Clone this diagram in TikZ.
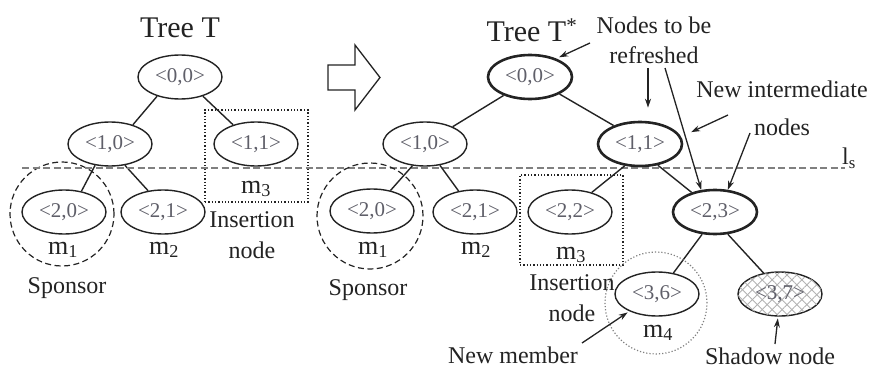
\documentclass[tikz,border=0pt]{standalone}
\usepackage{fontspec}
\setmainfont{Liberation Serif}
\usetikzlibrary{shapes.geometric,patterns.meta,arrows.meta}
\definecolor{labgray}{RGB}{95,95,105}
\definecolor{ink}{RGB}{35,35,35}
\begin{document}
\begin{tikzpicture}[x=1pt,y=-1pt,
  tn/.style={ellipse,draw=ink,line width=1.4pt,minimum width=84pt,minimum height=44pt,inner sep=0pt,
    font=\fontsize{21}{21}\selectfont,text=labgray},
  tnb/.style={tn,line width=2.6pt},
  edge/.style={draw=ink,line width=1.4pt},
  ttl/.style={font=\fontsize{30}{30}\selectfont,text=ink},
  lab/.style={font=\fontsize{24}{30}\selectfont,text=ink,align=center,inner sep=0pt},
  mlab/.style={font=\fontsize{26}{26}\selectfont,text=ink,inner sep=0pt},
  ann/.style={-{Stealth[length=9pt,width=6pt]},line width=1.3pt,draw=ink},
  hatch/.style={pattern={Lines[angle=45,distance=7pt,line width=0.9pt]},pattern color=gray!60,
    postaction={pattern={Lines[angle=-45,distance=7pt,line width=0.9pt]},pattern color=gray!60}}
]
\useasboundingbox (0,0) rectangle (876,369);

% ---------- left tree ----------
\node[ttl] (tT) at (180,28) {Tree T};
\node[tn] (l00) at (180,77) {<0,0>};
\node[tn] (l10) at (110,144) {<1,0>};
\node[tn] (l11) at (256,144) {<1,1>};
\node[tn] (l20) at (64,212) {<2,0>};
\node[tn] (l21) at (163,212) {<2,1>};
\draw[edge] (l00.220) -- (l10.40);
\draw[edge] (l00.320) -- (l11.140);
\draw[edge] (l10.235) -- (l20.50);
\draw[edge] (l10.305) -- (l21.125);
\node[draw=ink,dotted,line width=1.3pt,minimum width=103pt,minimum height=92pt,inner sep=0pt] (lins) at (256.5,156) {};
\node[mlab] (lm3) at (256,189) {m\textsubscript{3}};
\node[circle,draw=ink,dashed,dash pattern=on 6pt off 3.5pt,line width=1.2pt,minimum size=104pt,inner sep=0pt] (lsp) at (62,214) {};
\node[mlab] (lm1) at (63,250) {m\textsubscript{1}};
\node[mlab] (lm2) at (164,250) {m\textsubscript{2}};
\node[lab] (lsponsor) at (67,288) {Sponsor};
\node[lab,font=\fontsize{24}{31}\selectfont] (linsl) at (252,235) {Insertion\\node};

% ---------- level line ----------
\coordinate (lsA) at (22,168);
\coordinate (lsB) at (845,168);
\draw[draw=gray,dashed,dash pattern=on 7pt off 3.5pt,line width=1.3pt] (lsA) -- (lsB);
\node[lab] (ls) at (849,158) {l\textsubscript{s}};

% ---------- block arrow ----------
\draw[draw=ink,line width=1.3pt,fill=white] (328,65) -- (355,65) -- (355,45) -- (380,77.5) -- (355,110) -- (355,90) -- (328,90) -- cycle;

% ---------- right tree ----------
\node[ttl,anchor=west] (tTs) at (483,30) {Tree T\textsuperscript{*}};
\node[tnb] (r00) at (530,77) {<0,0>};
\node[tn] (r10) at (425,144) {<1,0>};
\node[tnb] (r11) at (640,144) {<1,1>};
\node[tn] (r20) at (372,211) {<2,0>};
\node[tn] (r21) at (475,212) {<2,1>};
\node[tn] (r22) at (570,212) {<2,2>};
\node[tnb] (r23) at (715,212) {<2,3>};
\node[tn] (r36) at (657,294) {<3,6>};
\node[tn,hatch] (r37) at (780,294) {<3,7>};
\draw[edge] (r00.215) -- (r10.32);
\draw[edge] (r00.330) -- (r11.145);
\draw[edge] (r10.240) -- (r20.48);
\draw[edge] (r10.305) -- (r21.128);
\draw[edge] (r11.235) -- (r22.42);
\draw[edge] (r11.310) -- (r23.140);
\draw[edge] (r23.240) -- (r36.52);
\draw[edge] (r23.300) -- (r37.128);

\node[draw=ink,dotted,line width=1.3pt,minimum width=103pt,minimum height=90pt,inner sep=0pt] (rins) at (571.5,220) {};
\node[circle,draw=ink,dashed,dash pattern=on 6pt off 3.5pt,line width=1.2pt,minimum size=106pt,inner sep=0pt] (rsp) at (370,216) {};
\node[circle,draw=gray,dotted,line width=1.2pt,minimum size=102pt,inner sep=0pt] (rnm) at (656,303) {};
\node[mlab] (rm1) at (373,250) {m\textsubscript{1}};
\node[mlab] (rm2) at (476,250) {m\textsubscript{2}};
\node[mlab] (rm3) at (571,255) {m\textsubscript{3}};
\node[mlab] (rm4) at (658,333) {m\textsubscript{4}};
\node[lab] (rsponsor) at (368,290) {Sponsor};
\node[lab,font=\fontsize{24}{31}\selectfont] (rinsl) at (572,298) {Insertion\\node};

% ---------- annotations ----------
\node[lab] (refr) at (654,40) {Nodes to be\\refreshed};
\node[lab] (newint) at (782,89) {New intermediate};
\node[lab] (newint2) at (782,127) {nodes};
\node[lab] (newmem) at (513,355) {New member};
\node[lab] (shadow) at (770,356) {Shadow node};

\coordinate (a1) at (590,43);
\coordinate (a2) at (648,68);
\coordinate (a3) at (665,68);
\coordinate (a4) at (728,115);
\coordinate (a5) at (750,133);
\coordinate (a6) at (582,343);
\coordinate (a7) at (775,344);
\draw[ann,shorten >=3pt] (a1) -- (r00.35);
\draw[ann,shorten >=13pt] (a2) -- (r11.north -| a2);
\draw[ann] (a3) -- (r23.122);
\draw[ann,shorten >=11pt] (a4) -- (r11.10);
\draw[ann] (a5) -- (r23.60);
\draw[ann,shorten >=2pt] (a6) -- (r36.212);
\draw[ann,shorten >=2pt] (a7) -- (r37.265);
\end{tikzpicture}
\end{document}
